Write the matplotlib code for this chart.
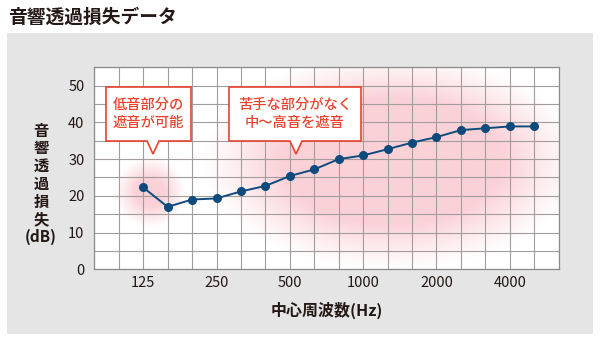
import numpy as np
import matplotlib
matplotlib.use("Agg")
import matplotlib.pyplot as plt
from matplotlib.patches import Rectangle, Polygon

plt.rcParams['font.family'] = ['Noto Sans CJK JP', 'DejaVu Sans']

# 1/3-octave center frequencies and measured transmission loss
freqs = [125, 160, 200, 250, 315, 400, 500, 630, 800, 1000,
         1250, 1600, 2000, 2500, 3150, 4000, 5000]
loss_db = [22.3, 17.0, 19.0, 19.3, 21.2, 22.7, 25.4, 27.2, 30.0, 31.0,
           32.7, 34.5, 36.0, 37.9, 38.4, 38.9, 38.9]
tick_labels = ['125', '250', '500', '1000', '2000', '4000']
tick_freqs = [125, 250, 500, 1000, 2000, 4000]
y_ticks = [0, 10, 20, 30, 40, 50]

title = '音響透過損失データ'
xlabel = '中心周波数(Hz)'
ylabel = '音\n響\n透\n過\n損\n失\n(dB)'
note_low = '低音部分の\n遮音が可能'
note_mid = '苦手な部分がなく\n中〜高音を遮音'

RED = '#e9432f'
NAVY = '#0f4a7c'
TXT = '#231815'

W, H = 600, 348
fig = plt.figure(figsize=(W / 100, H / 100), dpi=100)
fig.patch.set_facecolor('white')


def fx(px):
    return px / W


def fy(py):
    return 1 - py / H


# grey panel
fig.patches.append(Rectangle((fx(7), fy(334)), fx(593) - fx(7), fy(33) - fy(334),
                             transform=fig.transFigure, facecolor='#e5e5e5',
                             edgecolor='none', zorder=-5))
fig.text(fx(8), fy(17), title, fontsize=13.5, color=TXT, va='center', ha='left',
         fontweight='bold')

ax_l, ax_r, ax_t, ax_b = 94.3, 558.7, 67.3, 269.3
ax = fig.add_axes([fx(ax_l), fy(ax_b), fx(ax_r) - fx(ax_l), fy(ax_t) - fy(ax_b)])
ax.set_zorder(1)
ax.set_facecolor('white')

# x positions in 1/3-octave steps relative to 125 Hz
xpos = np.round(3 * np.log2(np.array(freqs) / 125.0)).astype(int)
tick_pos = np.round(3 * np.log2(np.array(tick_freqs) / 125.0)).astype(int)
ax.set_xlim(-2, 17)
ax.set_ylim(0, 55)

# soft pink highlights behind the grid
nx, ny = 464, 202
gx, gy = np.meshgrid(np.linspace(ax_l, ax_r, nx), np.linspace(ax_t, ax_b, ny))


def blob(cx, cy, rx, ry, edge):
    r = np.sqrt(((gx - cx) / rx) ** 2 + ((gy - cy) / ry) ** 2)
    a = np.clip((1 - r) / edge, 0, 1)
    return a ** 1.1


alpha = np.maximum(blob(150, 193, 36, 36, 0.6),
                   blob(392, 162, 190, 108, 0.42))
img = np.zeros((ny, nx, 4))
img[..., 0] = 0.984
img[..., 1] = 0.80
img[..., 2] = 0.83
img[..., 3] = alpha * 0.9
ax.imshow(img, extent=(0, 1, 0, 1), transform=ax.transAxes, aspect='auto',
          zorder=0.5, interpolation='bilinear')

# grid on every 1/3 octave and every 5 dB
ax.set_xticks(tick_pos)
ax.set_xticklabels(tick_labels)
ax.set_yticks(y_ticks)
ax.set_xticks(np.arange(-2, 18), minor=True)
ax.set_yticks(np.arange(0, 56, 5), minor=True)
ax.grid(which='both', color='#a39c9c', linewidth=0.8, zorder=1)
ax.tick_params(which='both', length=0, labelsize=10.5, colors=TXT)
ax.tick_params(axis='x', pad=5)
ax.tick_params(axis='y', pad=7)
for sp in ax.spines.values():
    sp.set_color('#8c8c8c')
    sp.set_linewidth(0.9)

ax.plot(xpos, loss_db, color=NAVY, linewidth=1.4, marker='o', markersize=5.5,
        zorder=5, clip_on=False)

ax.set_xlabel(xlabel, fontsize=11.5, color=TXT, fontweight='bold', labelpad=8)
fig.text(fx(41), fy(184), ylabel, fontsize=11, color=TXT, fontweight='bold',
         ha='center', va='center', linespacing=1.13)


def callout(x0, x1, y0, y1, tipx, tipy, text):
    half = 6
    pts = [(x0, y0), (x1, y0), (x1, y1), (tipx + half, y1), (tipx, tipy),
           (tipx - half, y1), (x0, y1)]
    pts = [(fx(px), fy(py)) for px, py in pts]
    poly = Polygon(pts, closed=True, transform=fig.transFigure,
                   facecolor='white', edgecolor=RED, linewidth=1.2, zorder=10)
    fig.patches.append(poly)
    fig.text(fx((x0 + x1) / 2), fy((y0 + y1) / 2), text, fontsize=10.3,
             color=RED, ha='center', va='center', linespacing=1.35,
             fontweight='medium', zorder=11)


callout(106, 191, 87, 141, 153, 154, note_low)
callout(229, 361, 87, 141, 296, 154, note_mid)

fig.savefig('out.png', dpi=100)
